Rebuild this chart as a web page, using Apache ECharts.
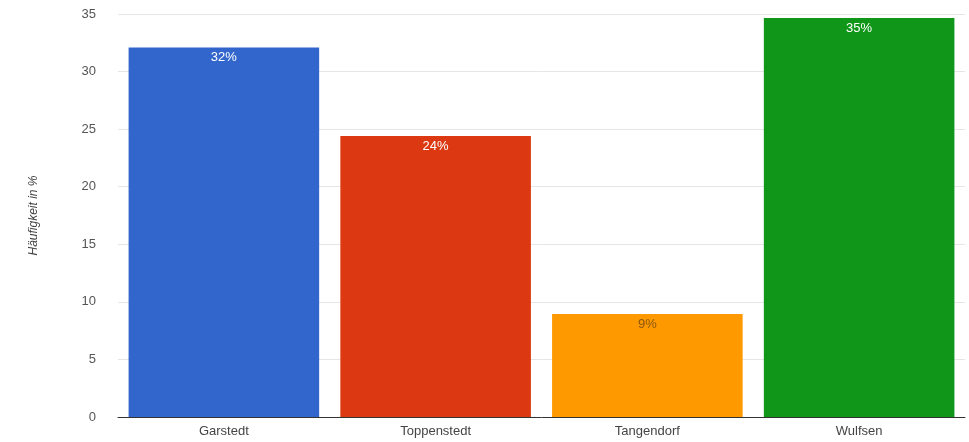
<!DOCTYPE html>
<html><head><meta charset="utf-8">
<script src="https://cdn.jsdelivr.net/npm/echarts@6/dist/echarts.min.js"></script>
<style>html,body{margin:0;padding:0;background:#fff}#c{width:969px;height:442px}</style>
</head><body><div id="c"></div>
<script>
const categories = ['Garstedt', 'Toppenstedt', 'Tangendorf', 'Wulfsen'];
const values = [32.1, 24.4, 8.95, 34.65];
const labels = ['32%', '24%', '9%', '35%'];
const colors = ['#3366cc', '#dc3912', '#ff9900', '#109618'];
const labelColors = ['#ffffff', '#ffffff', 'rgba(90,60,20,0.7)', '#ffffff'];

const chart = echarts.init(document.getElementById('c'));
chart.setOption({
  animation: false,
  grid: {left: 118, right: 4, top: 14, bottom: 25},
  xAxis: {
    type: 'category', data: categories,
    axisLine: {lineStyle: {color: '#333', width: 1}},
    axisTick: {show: false},
    axisLabel: {color: '#444', fontFamily: 'Arial, Liberation Sans', fontSize: 13, margin: 8}
  },
  yAxis: {
    type: 'value', min: 0, max: 35, interval: 5,
    name: 'Häufigkeit in %', nameLocation: 'middle', nameGap: 78,
    nameTextStyle: {fontStyle: 'italic', color: '#444', fontFamily: 'Arial, Liberation Sans', fontSize: 12},
    axisLine: {show: false}, axisTick: {show: false},
    axisLabel: {color: '#555', fontFamily: 'Arial, Liberation Sans', fontSize: 13, margin: 22},
    splitLine: {lineStyle: {color: '#e6e6e6'}}
  },
  series: [{
    type: 'bar', barCategoryGap: '10%',
    data: values.map((v, i) => ({
      value: v,
      itemStyle: {color: colors[i]},
      label: {show: true, position: 'insideTop', distance: 4, formatter: labels[i], color: labelColors[i],
        fontFamily: 'Arial, Liberation Sans', fontSize: 13}
    }))
  }]
});
</script></body></html>
